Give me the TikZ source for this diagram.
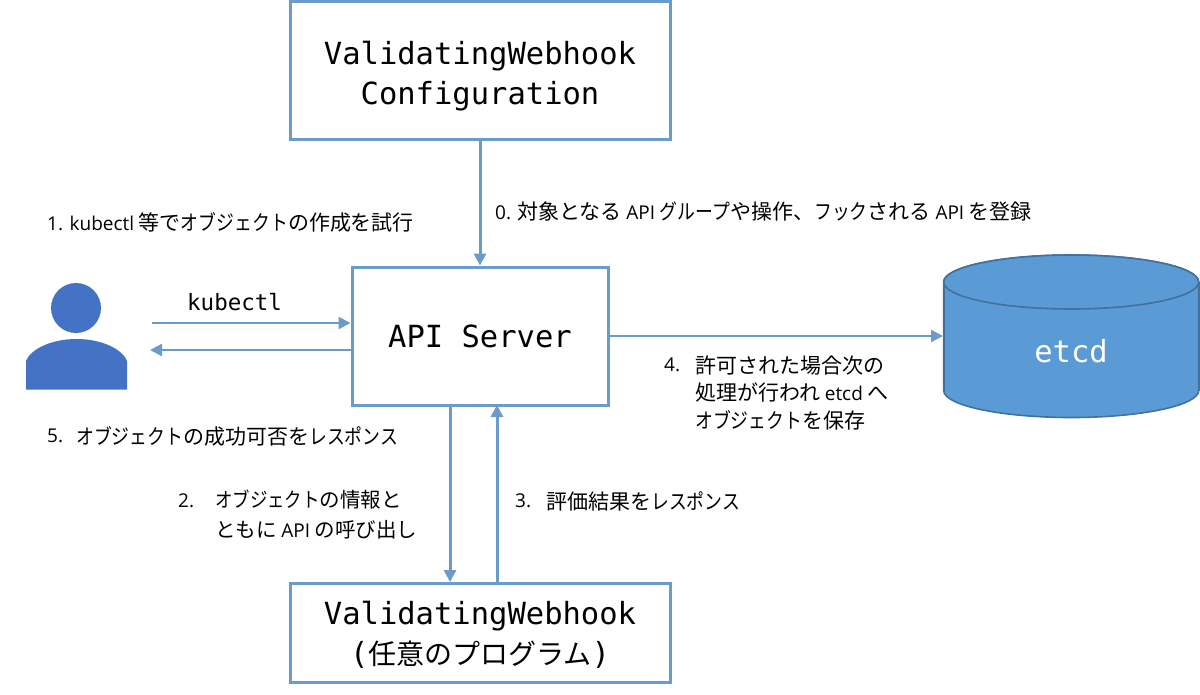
\documentclass[tikz,border=0pt]{standalone}
\usepackage{fontspec}
\setmainfont{Noto Sans CJK JP}
\newfontfamily\monof{DejaVu Sans Mono}
\newfontfamily\monoj{Noto Sans CJK JP}
\newfontfamily\narrowf[FakeStretch=0.85]{Noto Sans CJK JP}
\newfontfamily\latf{Open Sans}
\newcommand\kn[1]{{\narrowf #1}}
\newcommand\la[1]{{\latf\fontsize{19}{27.5}\selectfont #1}}
\usetikzlibrary{arrows.meta}
\definecolor{edge}{HTML}{6A9BCB}
\definecolor{fillb}{HTML}{5B9BD5}
\definecolor{edgeb}{HTML}{41719C}
\definecolor{person}{HTML}{4472C4}
\tikzset{
 box/.style={draw=edge,line width=3pt,fill=white,align=center,font=\monof\fontsize{30.5}{40}\selectfont,inner sep=0pt},
 conn/.style={draw=edge,line width=2.2pt,-{Triangle[length=12pt,width=12pt]}},
 vconn/.style={conn,line width=3pt},
 lab/.style={anchor=west,align=left,font=\fontsize{21}{27.5}\selectfont,inner sep=0pt,text=black}
}
\begin{document}
\begin{tikzpicture}[x=1pt,y=-1pt]
\useasboundingbox (0,0) rectangle (1200,694);
\fill[white] (0,0) rectangle (1200,694);
\node[box,minimum width=380pt,minimum height=138pt] (cfg) at (480,70.5) {\rule{0pt}{2pt}\\[-8pt]ValidatingWebhook\\Configuration};
\node[box,minimum width=256pt,minimum height=138pt] (api) at (480,336) {API Server};
\node[box,minimum width=380pt,minimum height=99pt] (hook) at (480,633) {\rule{0pt}{2pt}\\[-14pt]ValidatingWebhook\\({\monoj\fontsize{28}{40}\selectfont 任意のプログラム})};
\draw[edgeb,line width=1.6pt,fill=fillb] (943.7,282) arc[start angle=180,end angle=360,x radius=127.5,y radius=27] -- (1198.7,390.5) arc[start angle=0,end angle=180,x radius=127.5,y radius=27] -- cycle;
\draw[edgeb,line width=1.6pt,fill=fillb] (1071.2,282) ellipse[x radius=127.5,y radius=27];
\draw[edgeb,line width=1.6pt] (943.7,282) -- (943.7,390.5) (1198.7,282) -- (1198.7,390.5);
\node[text=white,font=\monof\fontsize{30.5}{36}\selectfont] (etcd) at (1071,351) {etcd};
\coordinate (cylw) at (943,336);
\fill[person] (76,308) circle (25);
\fill[person] (26,389.5) -- (26,361) .. controls (30,350) and (50,339) .. (76.5,339) .. controls (103,339) and (123,350) .. (127,361) -- (127,389.5) -- cycle;
\coordinate (uin) at (152,323);
\coordinate (uout) at (150,350);
\draw[conn] (uin) -- (uin -| api.west);
\draw[conn] (uout -| api.west) -- (uout);
\draw[vconn] (cfg.south) -- (api.north);
\draw[conn] (api.east |- cylw) -- (cylw);
\coordinate (d1) at (450,405);
\coordinate (d2) at (497,405);
\draw[vconn] (d1) -- (d1 |- hook.north);
\draw[vconn] (d2 |- hook.north) -- (d2);
\node[lab] (l1) at (47,222) {\la{1. kubectl} 等で\kn{オブジェクト}の作成を試行};
\node[lab] (l0) at (495,212) {\la{0.} 対象となる \la{API} \kn{グループ}や操作、\kn{フック}される \la{API} を登録};
\node[anchor=west,inner sep=0pt,font=\monof\fontsize{22.5}{26}\selectfont] (lk) at (187,302) {kubectl};
\node[lab] (l5n) at (47,436) {\la{5.}};
\node[lab] (l5) at (76,436) {\kn{オブジェクト}の成功可否を\kn{レスポンス}};
\node[lab] (l2n) at (178,501) {\la{2.}};
\node[lab,font=\fontsize{20.5}{30}\selectfont] (l2) at (215,515) {\kn{オブジェクト}の情報と\\ともに \la{API} の呼び出し};
\node[lab] (l3n) at (515,501) {\la{3.}};
\node[lab] (l3) at (546,501) {評価結果を\kn{レスポンス}};
\node[lab] (l4n) at (664,365) {\la{4.}};
\node[lab] (l4) at (695,392.5) {許可された場合次の\\処理が行われ \la{etcd} へ\\\kn{オブジェクト}を保存};
\end{tikzpicture}
\end{document}
